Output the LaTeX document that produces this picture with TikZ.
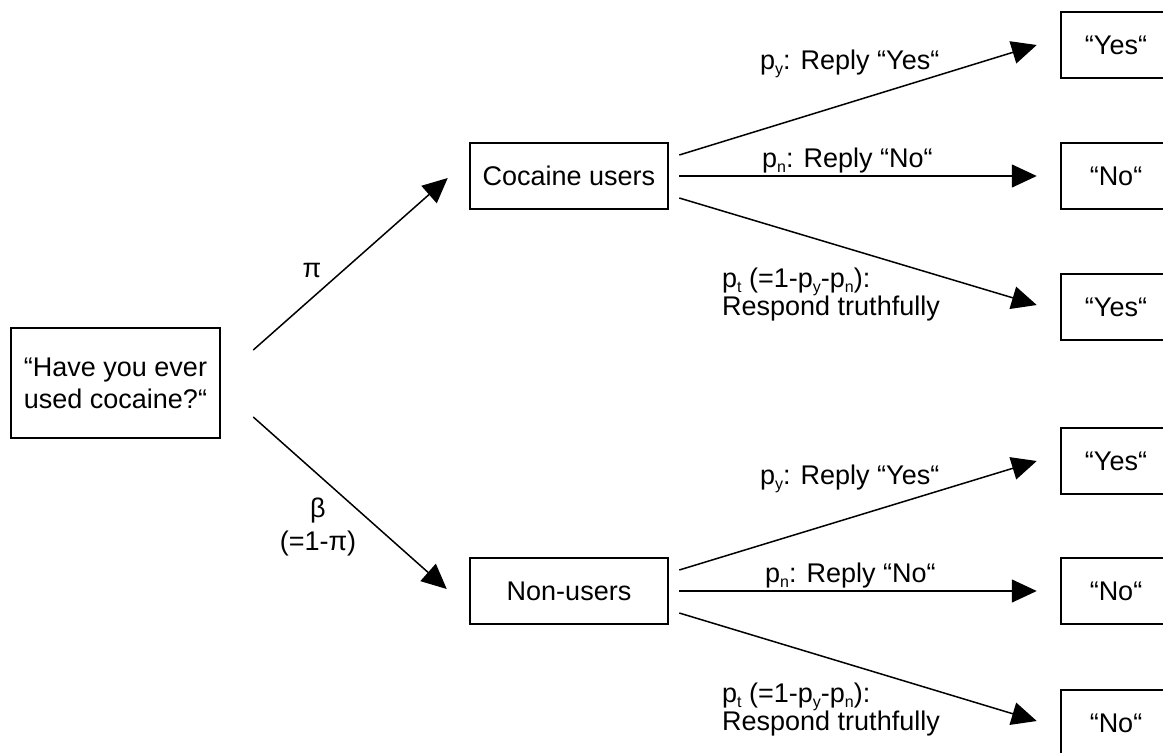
\documentclass[tikz,border=0pt]{standalone}
\usepackage{fontspec}
\setmainfont{Liberation Sans}
\usetikzlibrary{arrows.meta,calc}
% small lowered letter for the probability indices
\newcommand\lowsub[1]{\raisebox{-5pt}{\fontsize{16}{16}\selectfont #1}}

\begin{document}
\begin{tikzpicture}[x=1pt,y=-1pt,
  box/.style={draw, line width=2.5pt, inner sep=0pt, align=center,
              font=\fontsize{27}{32}\selectfont},
  answer/.style={box, minimum width=110pt, minimum height=66pt},
  group/.style={box, minimum width=198pt, minimum height=66pt},
  flow/.style={line width=1.5pt, -{Triangle[length=25pt,width=23pt]}},
  lbl/.style={inner sep=0pt, align=left, font=\fontsize{27}{28}\selectfont},
  glbl/.style={inner sep=0pt, align=center, font=\fontsize{27}{33}\selectfont}]
\useasboundingbox (0,0) rectangle (1163,753);
\fill[white] (0,0) rectangle (1163,753);
\clip (0,0) rectangle (1163,753);

% question and the two groups
\node[box, minimum width=209pt, minimum height=110pt] (q) at (115.5,383)
  {“Have you ever\\used cocaine?“};
\node[group] (c) at (569,176) {Cocaine users};
\node[group] (n) at (569,591) {Non-users};

% answers
\node[answer] (r1) at (1116,45)  {“Yes“};
\node[answer] (r2) at (1116,176) {“No“};
\node[answer] (r3) at (1116,307) {“Yes“};
\node[answer] (r4) at (1116,461) {“Yes“};
\node[answer] (r5) at (1116,591) {“No“};
\node[answer] (r6) at (1116,723) {“No“};

% first split
\draw[flow] ($(q.east)+(32,-33)$) -- ($(c.west)+(-21,2)$);
\draw[flow] ($(q.east)+(32,34)$)  -- ($(n.west)+(-22,-2)$);
\node[glbl] (lpi) at (312,270) {π};
\node[glbl] (lbeta) at (318,527) {β\\(=1-π)};

% branches of the cocaine users
\draw[flow] ($(c.east)+(10,-21)$) -- ($(r1.west)+(-23,0)$);
\draw[flow] ($(c.east)+(10,0)$)   -- ($(r2.west)+(-23,0)$);
\draw[flow] ($(c.east)+(10,22)$)  -- ($(r3.west)+(-23,-2)$);
\node[lbl, anchor=base west] (cy) at (760,69)  {p\lowsub{y}: Reply “Yes“};
\node[lbl, anchor=base west] (cn) at (762,167) {p\lowsub{n}: Reply “No“};
\node[lbl, anchor=base west] (ct) at (722,315)
  {p\lowsub{t} (=1-p\lowsub{y}-p\lowsub{n}):\\Respond truthfully};

% branches of the non-users
\draw[flow] ($(n.east)+(10,-21)$) -- ($(r4.west)+(-23,0)$);
\draw[flow] ($(n.east)+(10,0)$)   -- ($(r5.west)+(-23,0)$);
\draw[flow] ($(n.east)+(10,22)$)  -- ($(r6.west)+(-23,-2)$);
\node[lbl, anchor=base west] (ny) at (760,484) {p\lowsub{y}: Reply “Yes“};
\node[lbl, anchor=base west] (nn) at (765,582) {p\lowsub{n}: Reply “No“};
\node[lbl, anchor=base west] (nt) at (722,730)
  {p\lowsub{t} (=1-p\lowsub{y}-p\lowsub{n}):\\Respond truthfully};
\end{tikzpicture}
\end{document}
